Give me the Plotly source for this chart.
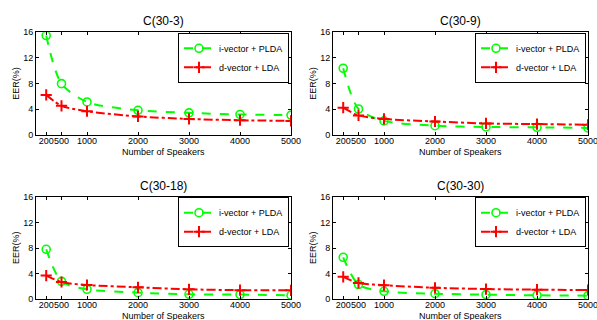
import plotly.graph_objects as go

speakers = [200, 500, 1000, 2000, 3000, 4000, 5000]
titles = ["C(30-3)", "C(30-9)", "C(30-18)", "C(30-30)"]

ivec_30_3 = [15.5, 8.0, 5.15, 3.85, 3.45, 3.2, 3.1]
dvec_30_3 = [6.25, 4.55, 3.7, 2.9, 2.5, 2.3, 2.2]
ivec_30_9 = [10.4, 4.05, 2.2, 1.45, 1.25, 1.2, 1.1]
dvec_30_9 = [4.25, 3.05, 2.5, 2.1, 1.8, 1.7, 1.6]
ivec_30_18 = [7.8, 2.8, 1.56, 1.04, 0.78, 0.73, 0.62]
dvec_30_18 = [3.7, 2.7, 2.23, 1.87, 1.56, 1.42, 1.4]
ivec_30_30 = [6.55, 2.3, 1.25, 0.88, 0.73, 0.62, 0.57]
dvec_30_30 = [3.5, 2.55, 2.2, 1.8, 1.6, 1.5, 1.45]

ivec_all = [ivec_30_3, ivec_30_9, ivec_30_18, ivec_30_30]
dvec_all = [dvec_30_3, dvec_30_9, dvec_30_18, dvec_30_30]

yticks = [0, 4, 8, 12, 16]
xticks = [200, 500, 1000, 2000, 3000, 4000, 5000]

W, H = 597, 320
FONT = "Arial, Liberation Sans, sans-serif"

# pixel boxes: (left, right, top, bottom)
boxes = [(36, 291, 32.3, 135), (333, 588, 32.3, 135),
         (36, 291, 196.7, 299.3), (333, 588, 196.7, 299.3)]

fig = go.Figure()
for i in range(4):
    sfx = "" if i == 0 else str(i + 1)
    leg = "legend" + sfx
    fig.add_trace(go.Scatter(
        x=speakers, y=ivec_all[i], name="i-vector + PLDA", legend=leg,
        xaxis="x" + sfx, yaxis="y" + sfx, mode="lines+markers",
        line=dict(color="#00FF00", width=2, dash="dash", shape="spline", smoothing=0.8),
        marker=dict(symbol="circle-open", size=8, color="#00FF00", line=dict(width=1.6, color="#00FF00")),
    ))
    fig.add_trace(go.Scatter(
        x=speakers, y=dvec_all[i], name="d-vector + LDA", legend=leg,
        xaxis="x" + sfx, yaxis="y" + sfx, mode="lines+markers",
        line=dict(color="#FF0000", width=2, dash="dashdot", shape="spline", smoothing=0.8),
        marker=dict(symbol="cross-thin", size=8, color="#FF0000", line=dict(width=2, color="#FF0000")),
    ))

layout = dict(
    width=W, height=H, margin=dict(l=0, r=0, t=0, b=0, autoexpand=False),
    paper_bgcolor="white", plot_bgcolor="white",
    font=dict(family=FONT, size=9, color="black"),
    annotations=[], shapes=[],
)
for i, (l, r, t, b) in enumerate(boxes):
    sfx = "" if i == 0 else str(i + 1)
    xd = [l / W, r / W]
    yd = [1 - b / H, 1 - t / H]
    layout["xaxis" + sfx] = dict(
        domain=xd, range=[0, 5000], anchor="y" + sfx, automargin=False,
        tickvals=xticks, ticktext=[str(v) for v in xticks], tickangle=0,
        ticklabeloverflow="allow", ticklabelstandoff=-3,
        ticks="inside", ticklen=3, tickcolor="black", mirror="allticks",
        showline=True, linecolor="black", linewidth=1, showgrid=False, zeroline=False,
        tickfont=dict(size=9, family=FONT),
    )
    layout["yaxis" + sfx] = dict(
        domain=yd, range=[0, 16], anchor="x" + sfx, automargin=False,
        tickvals=yticks, ticks="inside", ticklen=3, tickcolor="black", mirror="allticks",
        showline=True, linecolor="black", linewidth=1, showgrid=False, zeroline=False,
        tickfont=dict(size=9, family=FONT),
    )
    layout["legend" + sfx] = dict(
        x=(r - 2) / W, xanchor="right", y=1 - (t + 0.5) / H, yanchor="top",
        bgcolor="white", bordercolor="black", borderwidth=1,
        font=dict(size=9, family=FONT), itemwidth=30,
        tracegroupgap=0,
    )
    layout["annotations"].append(dict(
        text=titles[i], x=(l + r) / 2 / W, y=1 - (t - 11) / H, xref="paper", yref="paper",
        xanchor="center", yanchor="middle", showarrow=False, font=dict(size=12, family=FONT),
    ))
    layout["annotations"].append(dict(
        text="Number of Speakers", x=(l + r) / 2 / W, y=1 - (b + 17) / H, xref="paper", yref="paper",
        xanchor="center", yanchor="middle", showarrow=False, font=dict(size=9, family=FONT),
    ))
    layout["annotations"].append(dict(
        text="EER(%)", x=(l - 20) / W, y=1 - (t + b) / 2 / H, xref="paper", yref="paper",
        xanchor="center", yanchor="middle", showarrow=False, textangle=-90,
        font=dict(size=9, family=FONT),
    ))

fig.update_layout(**layout)
fig.write_html("out.html", config={"displayModeBar": False},
               post_script="document.body.style.margin='0';document.body.style.overflow='hidden';")
